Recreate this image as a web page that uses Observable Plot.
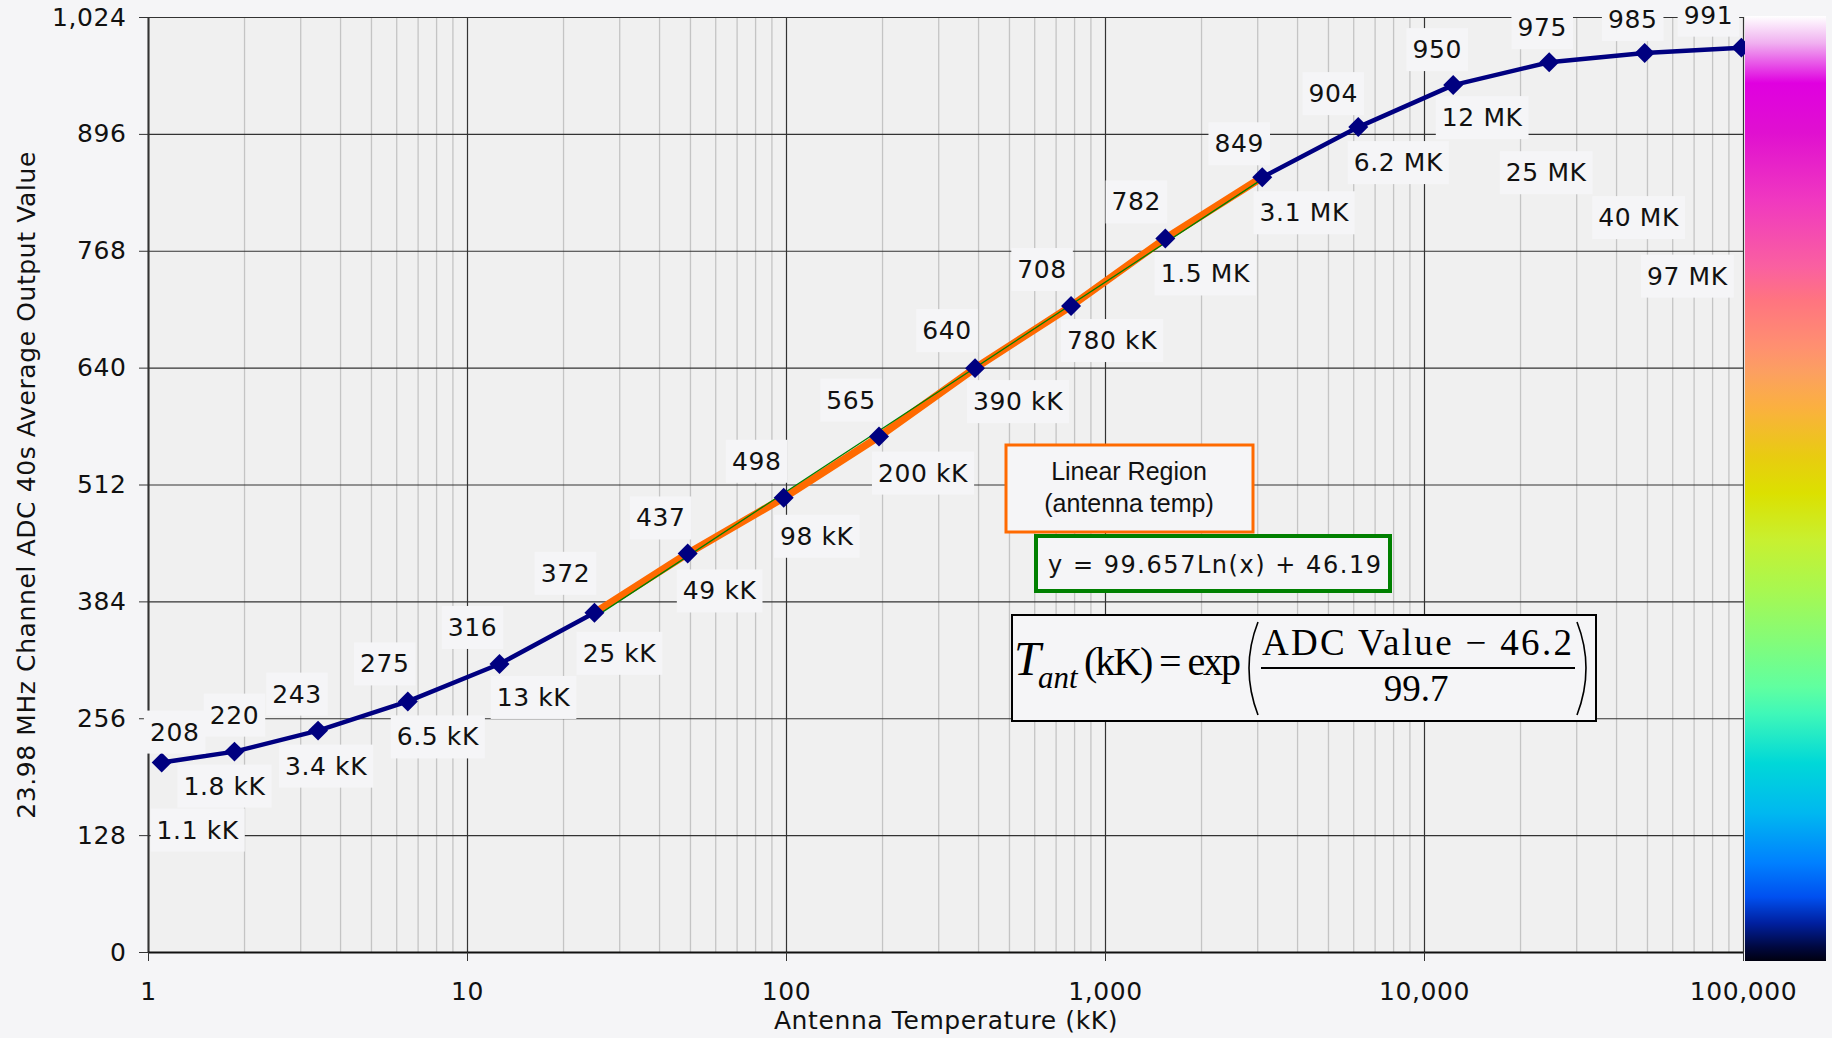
<!DOCTYPE html>
<html><head><meta charset="utf-8">
<script src="https://cdn.jsdelivr.net/npm/d3@7"></script>
<script src="https://cdn.jsdelivr.net/npm/@observablehq/plot@0.6"></script>
<style>
body{margin:0;background:#f5f5f7;}
#chart{position:relative;width:1832px;height:1038px;overflow:hidden;}
#cbar{position:absolute;left:1745px;top:16px;width:81px;height:945px;}
</style></head><body><div id="chart"><div id="cbar"></div></div>
<script>
// ---- data ----
const tempKK = [1.1, 1.86, 3.4, 6.5, 12.6, 25, 49, 98, 195, 390, 780, 1540, 3100, 6200, 12300, 24600, 49000, 98500];
const adc = [208, 220, 243, 275, 316, 372, 437, 498, 565, 640, 708, 782, 849, 904, 950, 975, 985, 991];
const tempLabels = ["1.1 kK","1.8 kK","3.4 kK","6.5 kK","13 kK","25 kK","49 kK","98 kK","200 kK","390 kK","780 kK","1.5 MK","3.1 MK","6.2 MK","12 MK","25 MK","40 MK","97 MK"];
const linearRange = [25, 3100];           // linear region (kK)
const trendX = [25, 3100];                // fitted log trend line endpoints
const trendY = [367, 847];
const xTicks = [1, 10, 100, 1000, 10000, 100000];
const yTicks = [0, 128, 256, 384, 512, 640, 768, 896, 1024];
const yTitle = "23.98 MHz Channel ADC 40s Average Output Value";
const xTitle = "Antenna Temperature (kK)";
const boxLinear = ["Linear Region", "(antenna temp)"];
const fitText = "y = 99.657Ln(x) + 46.19";
const colorStops = [
  [0, "#ffffff"], [27, "#f0b0f0"], [47, "#e858e8"], [67, "#e000e0"], [117, "#e010d0"],
  [184, "#f038c0"], [251, "#fa60a0"], [284, "#ff7480"], [331, "#ff9070"], [357, "#fca060"],
  [391, "#fbb040"], [441, "#e8cc10"], [477, "#dce000"], [524, "#c8f030"], [574, "#a8f850"],
  [624, "#84fc78"], [671, "#60ffa0"], [697, "#40f8b8"], [747, "#00d8d8"], [797, "#00b8f0"],
  [847, "#0080ff"], [881, "#0050f0"], [907, "#0020a0"], [931, "#000840"], [945, "#000010"]
];

// ---- label placement (pixel offsets from each point) ----
const valueOffsets = [[13,-30],[0,-36],[-21,-36],[-23,-37],[-27,-36],[-29,-39],[-27,-35],[-27,-36],[-28,-36],[-28,-37],[-29,-36],[-29,-36],[-23,-33],[-25,-33],[-16,-35],[-7,-34],[-12,-33],[-33,-32]];
const tempOffsets = [[36,68],[-10,35],[8,36],[30,36],[34,34],[25,41],[32,38],[33,39],[44,37],[43,34],[41,35],[40,36],[42,36],[40,36],[29,33],[-3,111],[-6,165],[-54,229]];

const idx = d3.range(adc.length);
const linIdx = idx.filter(i => tempKK[i] >= linearRange[0] && tempKK[i] <= linearRange[1]);
const minorTicks = d3.range(5).flatMap(e => d3.range(2, 10).map(m => m * 10 ** e));
const ink = "#111";
const lblFont = {fontSize: 25, fill: ink};

const valueMarks = idx.map(i => Plot.text([i], {
  x: j => tempKK[j], y: j => adc[j], text: j => String(adc[j]),
  dx: valueOffsets[i][0], dy: valueOffsets[i][1], className: "lbl", ...lblFont
}));
const tempMarks = idx.map(i => Plot.text([i], {
  x: j => tempKK[j], y: j => adc[j], text: j => tempLabels[j],
  dx: tempOffsets[i][0], dy: tempOffsets[i][1], className: "lbl", ...lblFont
}));

const plot = Plot.plot({
  width: 1832, height: 1038,
  marginLeft: 148, marginRight: 89, marginTop: 17, marginBottom: 86,
  style: {background: "transparent", fontFamily: "DejaVu Sans", fontSize: "25px", color: ink, letterSpacing: "0.6px"},
  x: {type: "log", domain: [1, 100000]},
  y: {domain: [0, 1024]},
  marks: [
    Plot.frame({fill: "#f0f0f0", stroke: null}),
    Plot.gridX(minorTicks, {stroke: "#c4c4c4", strokeOpacity: 1, strokeWidth: 1.3}),
    Plot.gridX(xTicks, {stroke: "#333", strokeOpacity: 1, strokeWidth: 1.2}),
    Plot.gridY(yTicks, {stroke: "#333", strokeOpacity: 1, strokeWidth: 1.2}),
    Plot.ruleX([1], {stroke: "#333", strokeWidth: 2}),
    Plot.ruleY([0], {stroke: "#111", strokeWidth: 2}),
    Plot.axisX(xTicks, {tickFormat: d3.format(","), tickSize: 9, tickPadding: 21, label: null, stroke: "#333", fill: ink}),
    Plot.axisY(yTicks, {tickFormat: d3.format(","), tickSize: 9, tickPadding: 13, label: null, stroke: "#333", fill: ink}),
    Plot.text([yTitle], {text: d => d, frameAnchor: "left", dx: -122, rotate: -90, textAnchor: "middle", fill: ink, fontSize: 25, lineAnchor: "middle"}),
    Plot.text([xTitle], {text: d => d, frameAnchor: "bottom", dy: 68, textAnchor: "middle", fill: ink, fontSize: 25, lineAnchor: "middle"}),
    Plot.line(idx, {x: i => tempKK[i], y: i => adc[i], stroke: "#000080", strokeWidth: 4.5}),
    Plot.line(linIdx, {x: i => tempKK[i], y: i => adc[i], stroke: "#ff6a00", strokeWidth: 7.5}),
    Plot.line(d3.range(trendX.length), {x: i => trendX[i], y: i => trendY[i], stroke: "#008000", strokeWidth: 1.3}),
    Plot.dot(idx, {x: i => tempKK[i], y: i => adc[i], symbol: "diamond2", r: 9, fill: "#000080", stroke: "none"}),
    ...valueMarks,
    ...tempMarks
  ]
});
document.getElementById("chart").appendChild(plot);

// background boxes behind data labels
plot.querySelectorAll("g.lbl text").forEach(t => {
  const bb = t.getBBox();
  const r = document.createElementNS("http://www.w3.org/2000/svg", "rect");
  r.setAttribute("x", bb.x - 6); r.setAttribute("y", bb.y - 7);
  r.setAttribute("width", bb.width + 12); r.setAttribute("height", bb.height + 14);
  r.setAttribute("fill", "#f5f5f7");
  if (t.getAttribute("transform")) r.setAttribute("transform", t.getAttribute("transform"));
  t.parentNode.insertBefore(r, t);
});

// annotations
const svg = d3.select(plot);
const ann = svg.append("g").attr("text-anchor", "start").attr("letter-spacing", 0);
// linear region box
ann.append("rect").attr("x", 1006).attr("y", 445).attr("width", 247).attr("height", 87)
  .attr("fill", "#f5f5f7").attr("stroke", "#ff6a00").attr("stroke-width", 3);
ann.selectAll("text.lr").data(boxLinear).join("text").attr("class", "lr")
  .attr("x", 1129).attr("y", (d, i) => i ? 512 : 480).attr("text-anchor", "middle")
  .attr("font-family", "Liberation Sans, Arial, sans-serif").attr("font-size", 25)
  .attr("fill", ink).text(d => d);
// fit box
ann.append("rect").attr("x", 1036).attr("y", 536).attr("width", 354).attr("height", 55)
  .attr("fill", "#f5f5f7").attr("stroke", "#008000").attr("stroke-width", 4);
ann.append("text").attr("x", 1048).attr("y", 573).attr("font-size", 24).attr("fill", ink)
  .attr("text-anchor", "start").attr("textLength", 333).attr("lengthAdjust", "spacing").text(fitText);
// formula box
const serif = "Liberation Serif, Times New Roman, serif";
ann.append("rect").attr("x", 1012).attr("y", 615).attr("width", 584).attr("height", 106)
  .attr("fill", "#f5f5f7").attr("stroke", "#000").attr("stroke-width", 2);
const f = ann.append("g").attr("font-family", serif).attr("fill", "#000").attr("text-anchor", "start");
f.append("text").attr("x", 1014).attr("y", 675).attr("font-size", 48).attr("font-style", "italic").text("T");
f.append("text").attr("x", 1038).attr("y", 688).attr("font-size", 31).attr("font-style", "italic").text("ant");
f.append("text").attr("x", 1084).attr("y", 675).attr("font-size", 40)
  .attr("textLength", 157).attr("lengthAdjust", "spacing").text("(kK) = exp");
f.append("path").attr("d", "M1258,622 Q1240,668 1258,715").attr("fill", "none").attr("stroke", "#000").attr("stroke-width", 1.6);
f.append("path").attr("d", "M1577,622 Q1595,668 1577,715").attr("fill", "none").attr("stroke", "#000").attr("stroke-width", 1.6);
f.append("text").attr("x", 1262).attr("y", 655).attr("font-size", 37)
  .attr("textLength", 310).attr("lengthAdjust", "spacing").text("ADC Value \u2212 46.2");
f.append("line").attr("x1", 1261).attr("x2", 1575).attr("y1", 668).attr("y2", 668).attr("stroke", "#000").attr("stroke-width", 2);
f.append("text").attr("x", 1416).attr("y", 701).attr("font-size", 37).attr("text-anchor", "middle").text("99.7");

// colour bar
document.getElementById("cbar").style.background =
  "linear-gradient(to bottom," + colorStops.map(([p, c]) => `${c} ${(p / 945 * 100).toFixed(2)}%`).join(",") + ")";
</script></body></html>
